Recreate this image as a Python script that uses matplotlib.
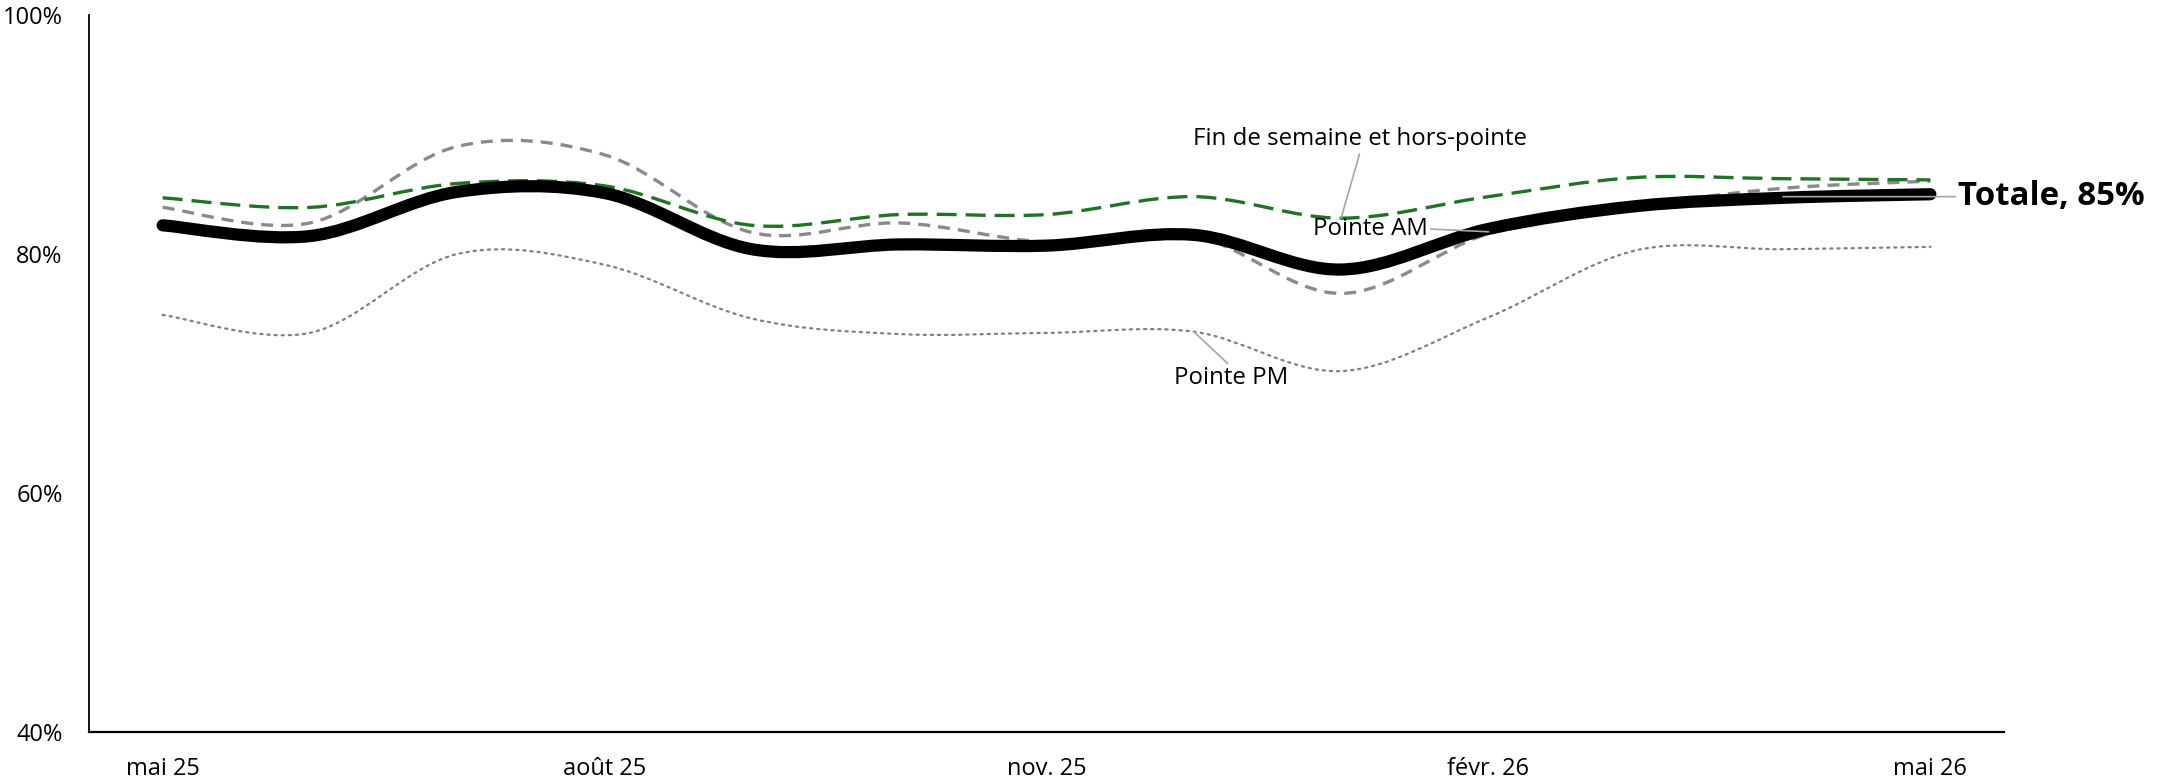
import matplotlib
matplotlib.use("Agg")
import matplotlib.pyplot as plt
from matplotlib.path import Path
from matplotlib.patches import PathPatch
from matplotlib.ticker import FuncFormatter
import numpy as np

plt.rcParams["font.family"] = ["Open Sans", "DejaVu Sans"]

# Monthly share (%) by period
months = ["mai 25", "juin 25", "juil. 25", "août 25", "sept. 25", "oct. 25", "nov. 25",
          "déc. 25", "janv. 26", "févr. 26", "mars 26", "avr. 26", "mai 26"]
totale = [82.4, 81.5, 85.2, 85.1, 80.4, 80.8, 80.7, 81.6, 78.7, 82.1, 84.0, 84.7, 85.0]
pointe_am = [83.9, 82.6, 89.0, 88.3, 81.8, 82.6, 81.0, 81.5, 76.7, 81.7, 84.0, 85.5, 86.1]
pointe_pm = [74.9, 73.4, 80.0, 79.1, 74.6, 73.3, 73.4, 73.5, 70.2, 74.7, 80.3, 80.4, 80.6]
fin_semaine = [84.7, 83.9, 85.9, 85.7, 82.4, 83.3, 83.3, 84.8, 83.0, 84.8, 86.4, 86.3, 86.2]

tick_idx = [0, 3, 6, 9, 12]


def smooth_path(xs, ys):
    """Smoothed (Catmull-Rom style) Bezier path through the points."""
    pts = np.column_stack([xs, ys]).astype(float)
    n = len(pts)
    verts = [pts[0]]
    codes = [Path.MOVETO]
    for i in range(n - 1):
        p_prev = pts[i - 1] if i > 0 else pts[i]
        p_next2 = pts[i + 2] if i + 2 < n else pts[i + 1]
        c1 = pts[i] + (pts[i + 1] - p_prev) / 6.0
        c2 = pts[i + 1] - (p_next2 - pts[i]) / 6.0
        verts += [c1, c2, pts[i + 1]]
        codes += [Path.CURVE4] * 3
    return Path(verts, codes)


fig = plt.figure(figsize=(21.57, 7.8), dpi=100)
ax = fig.add_axes([89 / 2157, 1 - 732 / 780, (2004 - 89) / 2157, (732 - 15) / 780])

x = np.arange(len(months))

series = [
    (pointe_am, dict(edgecolor="#8a8a8a", linewidth=2.4, linestyle=(0, (3.6, 2.4)), zorder=2)),
    (pointe_pm, dict(edgecolor="#7f7f7f", linewidth=1.6, linestyle=(0, (1.0, 2.2)), zorder=2,
                     capstyle="round")),
    (fin_semaine, dict(edgecolor="#1e7424", linewidth=2.4, linestyle=(0, (6.0, 2.7)), zorder=3)),
    (totale, dict(edgecolor="black", linewidth=8.8, linestyle="-", zorder=4, capstyle="round",
                  joinstyle="round")),
]
for vals, style in series:
    ax.add_patch(PathPatch(smooth_path(x, vals), facecolor="none", **style))

ax.set_xlim(-0.5, len(months) - 0.5)
ax.set_ylim(40, 100)
ax.set_yticks([40, 60, 80, 100])
ax.yaxis.set_major_formatter(FuncFormatter(lambda v, _: f"{v:.0f}%"))
ax.set_xticks(tick_idx)
ax.set_xticklabels([months[i] for i in tick_idx])
ax.tick_params(axis="both", length=0, labelsize=17, colors="black")
ax.tick_params(axis="y", pad=19)
ax.tick_params(axis="x", pad=18)

for side in ("top", "right"):
    ax.spines[side].set_visible(False)
ax.spines["left"].set_linewidth(1.3)
ax.spines["bottom"].set_linewidth(1.6)

leader = dict(arrowstyle="-", color="#a6a6a6", linewidth=1.2, shrinkA=0, shrinkB=0)

ax.annotate("Fin de semaine et hors-pointe", xy=(8, fin_semaine[8]), xytext=(8.13, 89.6),
            ha="center", va="center", fontsize=17.3, zorder=6,
            arrowprops=dict(leader, relpos=(0.5, 0.0)))
ax.annotate("Pointe AM", xy=(9, 81.86), xytext=(8.59, 82.1),
            ha="right", va="center", fontsize=17.3, zorder=6,
            arrowprops=dict(leader, relpos=(1.0, 0.5)))
ax.annotate("Pointe PM", xy=(7, pointe_pm[7]), xytext=(7.25, 69.6),
            ha="center", va="center", fontsize=17.3, zorder=6,
            arrowprops=dict(leader, relpos=(0.5, 1.0)))
ax.annotate(f"Totale, {totale[-1]:.0f}%", xy=(11, 84.8), xytext=(12.19, 84.8),
            ha="left", va="center", fontsize=23.8, fontweight="bold", zorder=6,
            annotation_clip=False,
            arrowprops=dict(leader, relpos=(0.0, 0.5)))

fig.savefig("out.png", dpi=100, facecolor="white")
